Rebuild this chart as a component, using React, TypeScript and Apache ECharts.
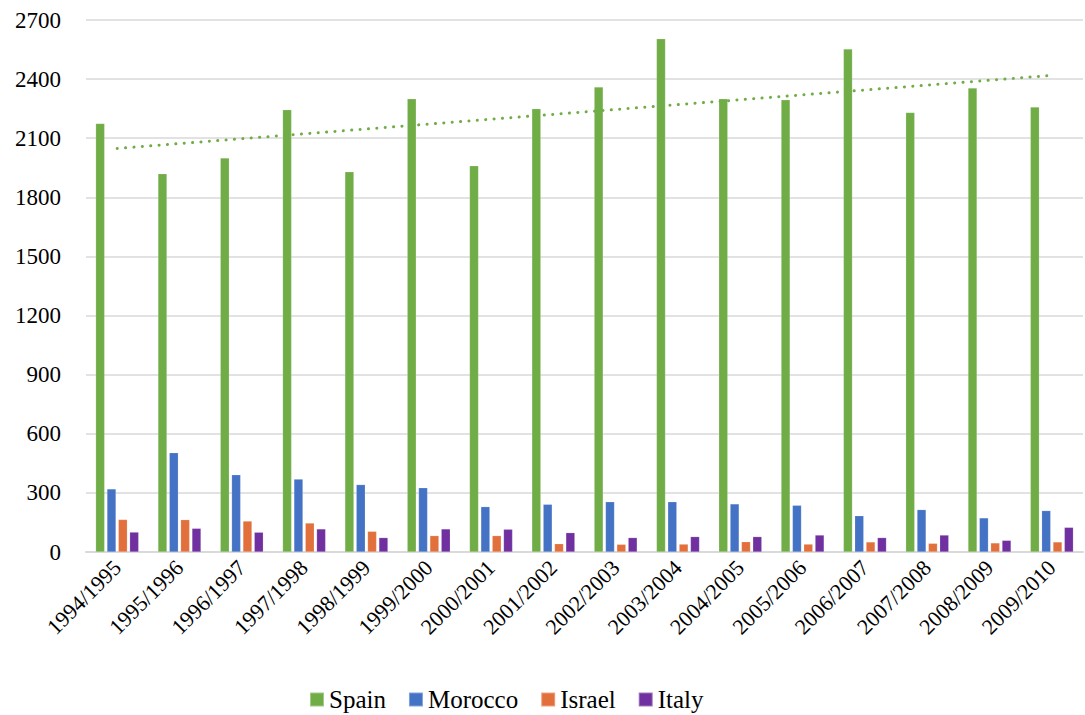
import React, { useEffect, useRef } from "react";
import * as echarts from "echarts";

const categories = [
  "1994/1995", "1995/1996", "1996/1997", "1997/1998", "1998/1999", "1999/2000",
  "2000/2001", "2001/2002", "2002/2003", "2003/2004", "2004/2005", "2005/2006",
  "2006/2007", "2007/2008", "2008/2009", "2009/2010",
];
const spain = [2175, 1920, 2000, 2245, 1930, 2300, 1960, 2250, 2360, 2605, 2300, 2295, 2553, 2231, 2355, 2258];
const morocco = [320, 504, 392, 370, 342, 326, 230, 242, 255, 255, 244, 237, 184, 215, 173, 210];
const israel = [165, 164, 157, 147, 105, 83, 83, 42, 39, 40, 52, 40, 51, 44, 46, 51];
const italy = [101, 120, 100, 117, 73, 117, 115, 98, 73, 78, 78, 86, 73, 86, 59, 125];
const yTicks = { min: 0, max: 2700, interval: 300 };

function linearTrend(values: number[]): number[] {
  const n = values.length;
  const mx = (n - 1) / 2;
  const my = values.reduce((a, b) => a + b, 0) / n;
  let sxy = 0, sxx = 0;
  values.forEach((v, i) => { sxy += (i - mx) * (v - my); sxx += (i - mx) * (i - mx); });
  const slope = sxy / sxx;
  return values.map((_, i) => my + slope * (i - mx));
}

const COLORS = { spain: "#70AD47", morocco: "#4472C4", israel: "#E2703C", italy: "#7030A0" };
const FONT = "Liberation Serif";

export default function App() {
  const ref = useRef<HTMLDivElement>(null);
  useEffect(() => {
    if (!ref.current) return;
    const chart = echarts.init(ref.current, null, { renderer: "svg" });
    const bar = (name: string, data: number[], color: string) => ({
      name, type: "bar", data, barWidth: 9, barGap: "26%",
      itemStyle: { color, borderColor: "rgba(255,255,255,0.35)", borderWidth: 0.5 },
    });
    chart.setOption({
      animation: false,
      textStyle: { fontFamily: FONT },
      grid: { left: 86, right: 2, top: 20, bottom: 163 },
      legend: {
        data: ["Spain", "Morocco", "Israel", "Italy"],
        left: 304, top: 682,
        icon: "rect", itemWidth: 14, itemHeight: 14, itemGap: 22,
        formatter: (name: string) => `{t|${name}}`,
        textStyle: {
          fontFamily: FONT, fontSize: 25, color: "#000",
          rich: { t: { fontFamily: FONT, fontSize: 25, color: "#000" } },
        },
      },
      xAxis: {
        type: "category", data: categories,
        axisTick: { show: false },
        axisLine: { lineStyle: { color: "#D9D9D9", width: 2 } },
        axisLabel: {
          rotate: 45, margin: 12, fontFamily: FONT, fontSize: 22, color: "#000", interval: 0,
          formatter: (v: string) => `{t|${v}}`,
          rich: { t: { fontFamily: FONT, fontSize: 22, color: "#000" } },
        },
      },
      yAxis: {
        type: "value", ...yTicks,
        axisLine: { show: false }, axisTick: { show: false },
        splitLine: { lineStyle: { color: "#D9D9D9", width: 1.5 } },
        axisLabel: {
          margin: 25, fontFamily: FONT, fontSize: 23, color: "#000",
          formatter: (v: number) => `{t|${v}}`,
          rich: { t: { fontFamily: FONT, fontSize: 23, color: "#000" } },
        },
      },
      series: [
        bar("Spain", spain, COLORS.spain),
        bar("Morocco", morocco, COLORS.morocco),
        bar("Israel", israel, COLORS.israel),
        bar("Italy", italy, COLORS.italy),
        {
          name: "Linear (Spain)", type: "line", data: linearTrend(spain),
          symbol: "none", z: 5,
          lineStyle: { color: COLORS.spain, width: 3, type: [0.1, 8.3], cap: "round" },
        },
      ],
    });
    return () => chart.dispose();
  }, []);
  return <div ref={ref} style={{ position: "absolute", left: 0, top: 0, width: 1085, height: 715 }} />;
}
